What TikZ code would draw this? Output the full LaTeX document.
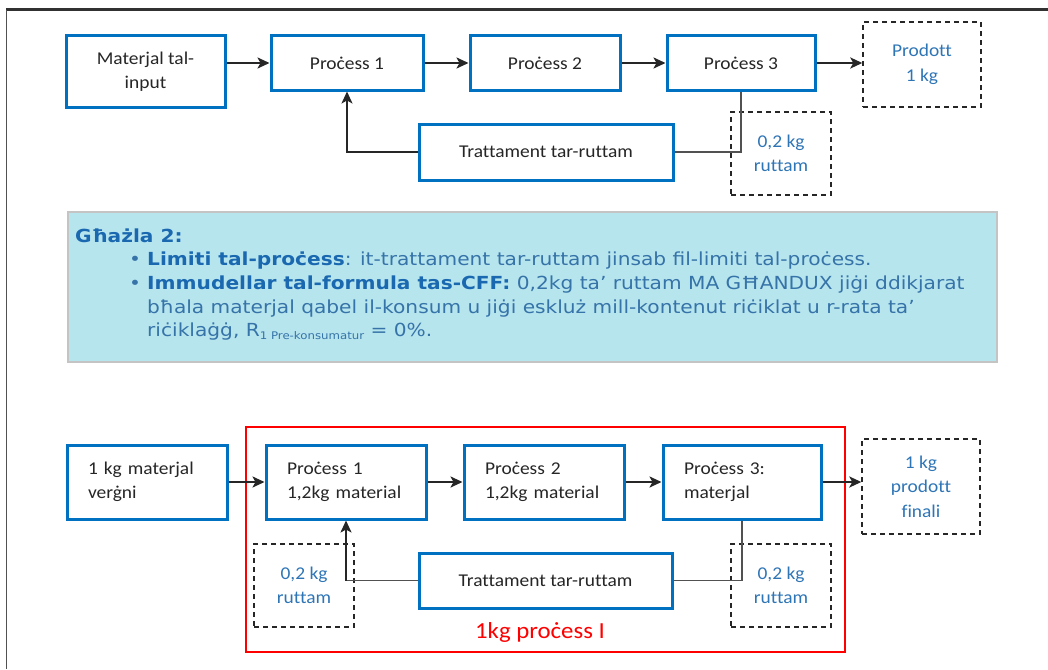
\documentclass[tikz,border=0pt]{standalone}
\usepackage{fontspec}
\setmainfont[Ligatures=NoCommon,FakeStretch=1.08]{Carlito}
\newfontfamily\panelfont[FakeStretch=1.12]{DejaVu Sans}
\usetikzlibrary{arrows.meta}
\definecolor{boxblue}{HTML}{0070C0}
\definecolor{labelblue}{HTML}{2E75B6}
\definecolor{panelfill}{HTML}{B7E5EE}
\definecolor{panelline}{HTML}{C4C4C4}
\definecolor{headblue}{HTML}{1A68B0}
\definecolor{bodyblue}{HTML}{3573A8}
\definecolor{textgray}{HTML}{262626}
\definecolor{framered}{HTML}{FF0000}
\tikzset{
  procbox/.style={draw=boxblue,line width=3pt,fill=white,inner sep=0pt,align=center,
    text=textgray,font=\fontsize{18}{24.5}\selectfont},
  leftbox/.style={procbox,align=left,inner xsep=21pt,inner ysep=0pt},
  wastebox/.style={draw=textgray,dashed,dash pattern=on 5pt off 4pt,line width=1.4pt,
    inner sep=0pt,align=center,text=labelblue,font=\fontsize{18}{24.5}\selectfont},
  flow/.style={-{Stealth[length=12pt,width=11pt,inset=3pt]},line width=2.5pt,draw=textgray},
  back/.style={line width=1.2pt,draw=textgray!80},
  backup/.style={-{Stealth[length=12pt,width=11pt,inset=3pt]},line width=1.5pt,draw=textgray},
  panelline/.style={anchor=base west,inner sep=0pt,text=bodyblue,font=\panelfont\fontsize{18}{23.3}\selectfont},
}
\begin{document}
\begin{tikzpicture}[x=1pt,y=-1pt]
\useasboundingbox (0,0) rectangle (1048,669);
% page frame
\draw[line width=3pt,draw=textgray!95] (6,10) -- (1048,10);
\draw[line width=1pt,draw=textgray!80] (6.5,10) -- (6.5,669);

% top diagram
\node(matin)[procbox,minimum width=159pt,minimum height=71pt] at (145.5,71.5){Materjal tal-\\input};
\node(p1)[procbox,minimum width=152pt,minimum height=54pt] at (347,63){Proċess 1};
\node(p2)[procbox,minimum width=150pt,minimum height=54pt] at (545,63){Proċess 2};
\node(p3)[procbox,minimum width=148pt,minimum height=54pt] at (741,63){Proċess 3};
\node(prod)[wastebox,minimum width=118pt,minimum height=85pt] at (922,64.5){Prodott\\1 kg};
\node(treat)[procbox,minimum width=254pt,minimum height=56pt] at (546,152){Trattament tar-ruttam};
\node(waste)[wastebox,minimum width=100pt,minimum height=83pt] at (781,153.5){0,2 kg\\ruttam};
\draw[flow] (matin.east |- p1.west) -- (p1.west);
\draw[flow] (p1) -- (p2);
\draw[flow] (p2) -- (p3);
\draw[flow] (p3.east) -- (p3.east -| prod.west);
\draw[back] (p3.south) |- (treat.east);
\draw[backup] (treat.west) -| (p1.south);

% option panel
\node(panel)[draw=panelline,line width=1.5pt,fill=panelfill,minimum width=929pt,minimum height=150pt,inner sep=0pt] at (532.5,287){};
\node(head)[panelline,text=headblue,font=\panelfont\bfseries\fontsize{18}{23.3}\selectfont] at (75,242){Għażla 2:};
\node(dot1)[panelline] at (129,265){•};
\node(item1)[panelline] at (147,265){\textcolor{headblue}{\bfseries Limiti tal-proċess}: it-trattament tar-ruttam jinsab fil-limiti tal-proċess.};
\node(dot2)[panelline] at (129,289){•};
\node(item2)[panelline,align=left,anchor=north west] at (147,276){\textcolor{headblue}{\bfseries Immudellar tal-formula tas-CFF:} 0,2kg ta’ ruttam MA GĦANDUX jiġi ddikjarat\\
bħala materjal qabel il-konsum u jiġi eskluż mill-kontenut riċiklat u r-rata ta’\\
riċiklaġġ, R\raisebox{-0.35ex}{\fontsize{10.5}{10}\selectfont 1 Pre-konsumatur} = 0\%.};

% bottom diagram
\node(bound)[draw=framered,line width=2pt,minimum width=599pt,minimum height=225pt,inner sep=0pt] at (545.5,539.5){};
\node(vmat)[leftbox,text width=118pt,minimum height=74pt] at (147,482){1 kg materjal\\verġni};
\node(q1)[leftbox,text width=118pt,minimum height=74pt] at (346,482){Proċess 1\\1,2kg material};
\node(q2)[leftbox,text width=118pt,minimum height=74pt] at (544,482){Proċess 2\\1,2kg material};
\node(q3)[leftbox,text width=116pt,minimum height=74pt] at (742,482){Proċess 3:\\materjal};
\node(fin)[wastebox,minimum width=118pt,minimum height=95pt] at (921,486.5){1 kg\\prodott\\finali};
\node(treat2)[procbox,minimum width=253pt,minimum height=55pt] at (545.5,580.5){Trattament tar-ruttam};
\node(wl)[wastebox,minimum width=100pt,minimum height=83pt] at (304,585.5){0,2 kg\\ruttam};
\node(wr)[wastebox,minimum width=100pt,minimum height=83pt] at (781,585.5){0,2 kg\\ruttam};
\node(lbl)[text=framered,font=\fontsize{23}{26}\selectfont] at (540,632){1kg proċess I};
\coordinate(bend) at (q1.south |- treat2.west);
\draw[flow] (vmat) -- (q1);
\draw[flow] (q1) -- (q2);
\draw[flow] (q2) -- (q3);
\draw[flow] (q3.east) -- (q3.east -| fin.west);
\draw[back] (q3.south) |- (treat2.east);
\draw[back] (treat2.west) -- (bend);
\draw[flow] (bend) -- (q1.south);
\end{tikzpicture}
\end{document}
